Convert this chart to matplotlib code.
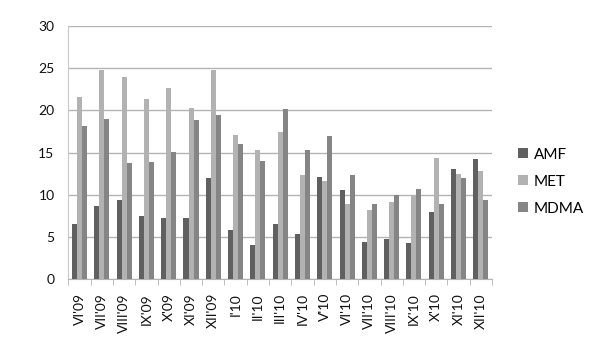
import numpy as np
import matplotlib
matplotlib.use("Agg")
import matplotlib.pyplot as plt

months = ["VI'09", "VII'09", "VIII'09", "IX'09", "X'09", "XI'09", "XII'09",
          "I'10", "II'10", "III'10", "IV'10", "V'10", "VI'10", "VII'10",
          "VIII'10", "IX'10", "X'10", "XI'10", "XII'10"]
amf = [6.5, 8.65, 9.35, 7.45, 7.2, 7.2, 12.0, 5.85, 4.0, 6.5, 5.3, 12.1,
       10.6, 4.35, 4.75, 4.3, 7.95, 13.05, 14.25]
met = [21.6, 24.8, 24.0, 21.4, 22.6, 20.3, 24.8, 17.05, 15.3, 17.4, 12.35,
       11.65, 8.9, 8.25, 9.15, 9.9, 14.3, 12.45, 12.85]
mdma = [18.2, 18.95, 13.8, 13.85, 15.05, 18.9, 19.45, 16.0, 14.05, 20.2,
        15.3, 17.0, 12.3, 8.9, 10.0, 10.65, 8.85, 12.0, 9.35]

series = [("AMF", amf, "#606060"), ("MET", met, "#b2b2b2"), ("MDMA", mdma, "#858585")]

plt.rcParams['font.family'] = ['Lato', 'DejaVu Sans']

fig = plt.figure(figsize=(6, 3.52), dpi=100)
ax = fig.add_axes([0.114, 0.207, 0.706, 0.719])

x = np.arange(len(months))
w = 0.225
for i, (name, vals, col) in enumerate(series):
    ax.bar(x + (i - 1) * w, vals, w, color=col, label=name, zorder=3)

ax.set_xlim(-0.5, len(months) - 0.5)
ax.set_ylim(0, 30)
ax.set_yticks(range(0, 31, 5))
ax.yaxis.grid(True, color="#b4b4b4", linewidth=1)
ax.set_axisbelow(True)
for s in ["top", "right"]:
    ax.spines[s].set_visible(False)
ax.spines["left"].set_color("#c8c8c8")
ax.spines["bottom"].set_color("#b4b4b4")
ax.tick_params(axis="y", length=0, pad=10, labelsize=10, colors="#111111")

ax.set_xticks(x)
ax.set_xticklabels(months, rotation=90, fontsize=10, color="#111111")
ax.tick_params(axis="x", length=0, pad=10)
ax.set_xticks(np.arange(len(months) + 1) - 0.5, minor=True)
ax.tick_params(axis="x", which="minor", length=4, color="#b4b4b4")

ax.legend(loc="center left", bbox_to_anchor=(1.03, 0.385), frameon=False,
          fontsize=11, handlelength=0.6, handleheight=0.6, handletextpad=0.4,
          labelspacing=0.85)

fig.savefig("out.png", dpi=100)
